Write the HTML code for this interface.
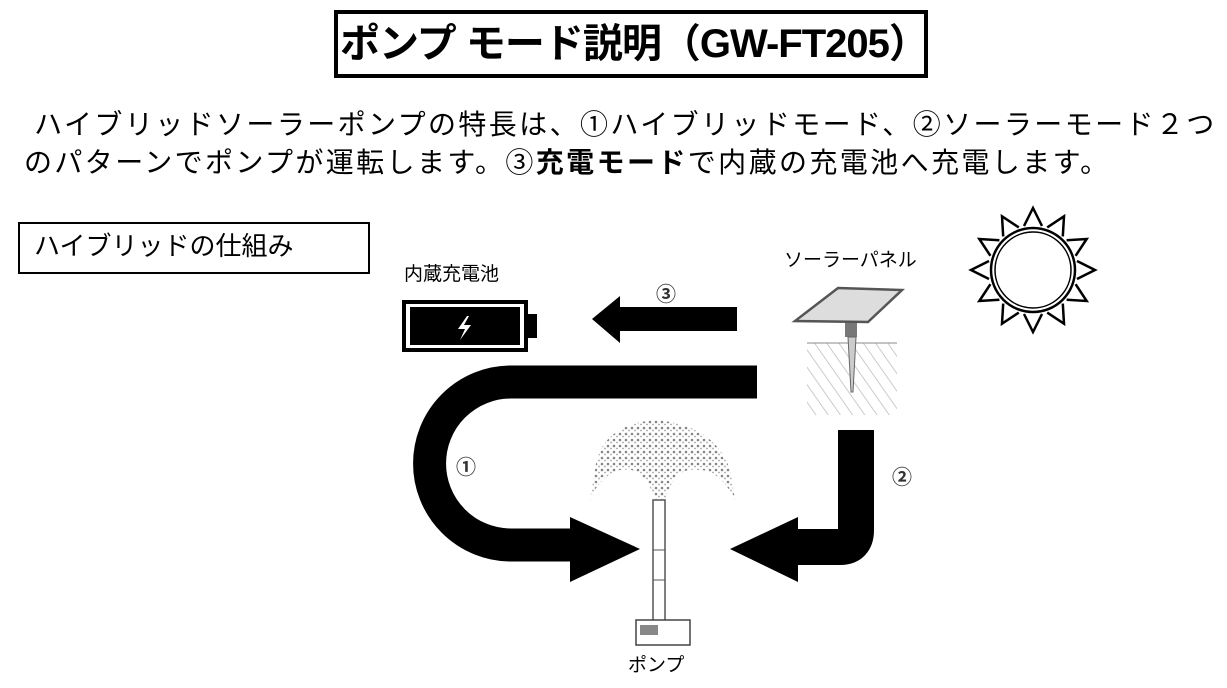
<!DOCTYPE html>
<html><head><meta charset="utf-8"><style>
body{margin:0;width:1227px;height:688px;background:#fff;position:relative;overflow:hidden;font-family:"Liberation Sans","Noto Sans CJK JP",sans-serif;color:#000}
.a{position:absolute;white-space:nowrap}
</style></head><body>
<div class="a" style="left:334px;top:10px;width:586px;height:60px;border:4px solid #000"></div>
<div class="a" style="left:340px;top:14px;width:580px;text-align:center;font-size:40px;font-weight:bold;line-height:60px;letter-spacing:-1px">ポンプ モード説明（GW-FT205）</div>
<div class="a" style="left:24px;top:106px;font-size:28px;line-height:38px;letter-spacing:2.4px">&nbsp;ハイブリッドソーラーポンプの特長は、①ハイブリッドモード、②ソーラーモード２つ<br>のパターンでポンプが運転します。③<b>充電モード</b>で内蔵の充電池へ充電します。</div>
<div class="a" style="left:18px;top:222px;width:348px;height:48px;border:2px solid #000"></div>
<div class="a" style="left:34px;top:228px;font-size:26px;line-height:36px">ハイブリッドの仕組み</div>
<div class="a" style="left:404px;top:259px;font-size:19px">内蔵充電池</div>
<div class="a" style="left:784px;top:245px;font-size:19px">ソーラーパネル</div>
<div class="a" style="left:628px;top:650px;font-size:19px">ポンプ</div>
<svg class="a" style="left:0;top:0" width="1227" height="688">
<rect x="404" y="302" width="122" height="48" fill="#fff" stroke="#000" stroke-width="4"/>
<rect x="410" y="307" width="110" height="38" fill="#000"/>
<rect x="526" y="314" width="11" height="24" fill="#000"/>
<path d="M467 316 L458 329 L465 329 L460 340 L471 325 L464 325 L469 316Z" fill="#fff"/>
<path d="M737 307 L620 307 L620 296 L592 319 L620 343 L620 331 L737 331Z" fill="#000"/>
<text x="656" y="301" font-size="20" font-weight="bold" fill="#333" font-family="Liberation Sans,Noto Sans CJK JP,sans-serif">③</text>
<path d="M757 382 L511 382 A81 81 0 0 0 511 545 L575 545" fill="none" stroke="#000" stroke-width="33"/>
<path d="M570 517 L640 549 L570 582Z" fill="#000"/>
<text x="456" y="474" font-size="20" font-weight="bold" fill="#333" font-family="Liberation Sans,Noto Sans CJK JP,sans-serif">①</text>
<path d="M856 430 L856 530 Q856 547 840 547 L795 547" fill="none" stroke="#000" stroke-width="36"/>
<path d="M798 517 L730 549 L798 582Z" fill="#000"/>
<text x="892" y="484" font-size="20" font-weight="bold" fill="#333" font-family="Liberation Sans,Noto Sans CJK JP,sans-serif">②</text>
<!-- pump -->
<rect x="653" y="500" width="12" height="122" fill="#fff" stroke="#555" stroke-width="1.5"/>
<line x1="653" y1="550" x2="665" y2="550" stroke="#555"/><line x1="653" y1="580" x2="665" y2="580" stroke="#555"/>
<rect x="636" y="620" width="54" height="25" fill="#fff" stroke="#444" stroke-width="1.5"/>
<rect x="640" y="625" width="18" height="10" fill="#888"/>
<defs><pattern id="d" width="6" height="6" patternUnits="userSpaceOnUse"><circle cx="2" cy="2" r="1.3" fill="#777"/><circle cx="5" cy="4.5" r="0.9" fill="#999"/></pattern></defs>
<g fill="url(#d)" opacity="0.9">
<path d="M595 470 Q600 425 655 420 Q715 425 730 470 L735 500 Q720 470 700 470 Q675 465 665 500 L655 500 Q645 465 620 470 Q600 475 590 500Z"/>
</g>
<!-- solar -->
<defs><pattern id="h" width="10" height="10" patternUnits="userSpaceOnUse" patternTransform="rotate(-35)"><line x1="0" y1="0" x2="0" y2="10" stroke="#bbb" stroke-width="1.5"/></pattern></defs>
<rect x="807" y="343" width="90" height="72" fill="url(#h)"/>
<line x1="807" y1="343" x2="897" y2="343" stroke="#888"/>
<path d="M838 288 L902 290 L868 322 L795 321Z" fill="#ddd" stroke="#555" stroke-width="2.5"/>
<rect x="845" y="323" width="12" height="14" fill="#777"/>
<path d="M848 337 L856 337 L853 392 L851 392Z" fill="#ccc" stroke="#666"/>
<!-- sun -->
<g transform="translate(1033,270)" fill="none" stroke="#000" stroke-width="2.5">
<circle r="42"/><circle r="38" stroke-width="1.5"/>
<g id="s"><path d="M-9 -44 L0 -62 L9 -44"/></g>
<use href="#s" transform="rotate(30)"/><use href="#s" transform="rotate(60)"/><use href="#s" transform="rotate(90)"/>
<use href="#s" transform="rotate(120)"/><use href="#s" transform="rotate(150)"/><use href="#s" transform="rotate(180)"/>
<use href="#s" transform="rotate(210)"/><use href="#s" transform="rotate(240)"/><use href="#s" transform="rotate(270)"/>
<use href="#s" transform="rotate(300)"/><use href="#s" transform="rotate(330)"/>
</g>
</svg>
</body></html>
